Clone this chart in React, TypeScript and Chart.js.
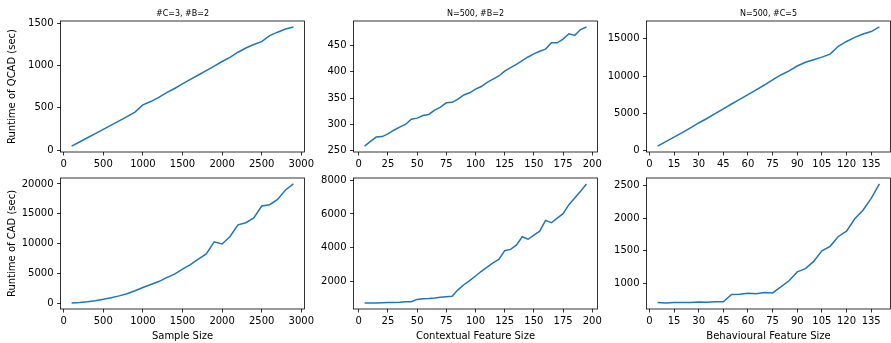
import React, { useEffect, useRef } from "react";
import { Chart, registerables } from "chart.js";

Chart.register(...registerables);

const FONT = "'DejaVu Sans', sans-serif";
const LINE_COLOR = "#1f77b4";

// ---- data ----
const sampleSizes = [100, 200, 300, 400, 500, 600, 700, 800, 900, 1000, 1100, 1200, 1300, 1400, 1500, 1600, 1700, 1800, 1900, 2000, 2100, 2200, 2300, 2400, 2500, 2600, 2700, 2800, 2900];
const qcadBySample = [47, 95, 145, 195, 245, 295, 345, 395, 450, 535, 575, 625, 680, 730, 785, 838, 890, 943, 995, 1050, 1100, 1160, 1210, 1252, 1285, 1358, 1398, 1435, 1460];
const cadBySample = [50, 150, 280, 450, 680, 950, 1250, 1600, 2100, 2650, 3150, 3650, 4300, 4880, 5750, 6480, 7400, 8280, 10300, 9950, 11200, 13150, 13500, 14300, 16300, 16520, 17400, 19000, 20000];

const contextualSizes = [5, 10, 15, 20, 25, 30, 35, 40, 45, 50, 55, 60, 65, 70, 75, 80, 85, 90, 95, 100, 105, 110, 115, 120, 125, 130, 135, 140, 145, 150, 155, 160, 165, 170, 175, 180, 185, 190, 195];
const qcadByContextual = [259, 268, 276, 277, 282, 289, 295, 300, 310, 312, 317, 319, 327, 333, 341, 342, 348, 356, 360, 367, 372, 380, 386, 392, 401, 408, 414, 421, 428, 434, 439, 443, 455, 455, 462, 472, 469, 480, 485];
const cadByContextual = [720, 715, 720, 730, 740, 750, 760, 790, 790, 930, 970, 985, 1010, 1060, 1090, 1120, 1500, 1800, 2050, 2320, 2600, 2850, 3100, 3300, 3820, 3900, 4150, 4650, 4500, 4750, 4980, 5620, 5480, 5750, 6020, 6550, 6950, 7350, 7780];

const behaviouralSizes = [5, 10, 15, 20, 25, 30, 35, 40, 45, 50, 55, 60, 65, 70, 75, 80, 85, 90, 95, 100, 105, 110, 115, 120, 125, 130, 135, 140];
const qcadByBehavioural = [600, 1200, 1800, 2400, 3050, 3700, 4300, 4950, 5600, 6250, 6880, 7520, 8150, 8800, 9500, 10150, 10700, 11350, 11850, 12200, 12550, 12950, 14000, 14650, 15200, 15650, 15980, 16600];
const cadByBehavioural = [712, 705, 715, 712, 713, 722, 716, 725, 725, 835, 838, 855, 848, 865, 860, 950, 1045, 1180, 1230, 1340, 1500, 1570, 1720, 1800, 1990, 2120, 2300, 2520];

// ---- tick labels ----
const sampleTicks = [0, 500, 1000, 1500, 2000, 2500, 3000];
const contextualTicks = [0, 25, 50, 75, 100, 125, 150, 175, 200];
const behaviouralTicks = [0, 15, 30, 45, 60, 75, 90, 105, 120, 135];
const qcadSampleYTicks = [0, 500, 1000, 1500];
const qcadContextualYTicks = [250, 300, 350, 400, 450];
const qcadBehaviouralYTicks = [0, 5000, 10000, 15000];
const cadSampleYTicks = [0, 5000, 10000, 15000, 20000];
const cadContextualYTicks = [2000, 4000, 6000, 8000];
const cadBehaviouralYTicks = [1000, 1500, 2000, 2500];

const titles = ["#C=3, #B=2", "N=500, #B=2", "N=500, #C=5"];
const yLabels = ["Runtime of QCAD (sec)", "Runtime of CAD (sec)"];
const xLabels = ["Sample Size", "Contextual Feature Size", "Behavioural Feature Size"];

type PanelDef = {
  col: number;
  row: number;
  xs: number[];
  ys: number[];
  xTicks: number[];
  yTicks: number[];
  title?: string;
  yLabel?: string;
  xLabel?: string;
};

const panels: PanelDef[] = [
  { col: 0, row: 0, xs: sampleSizes, ys: qcadBySample, xTicks: sampleTicks, yTicks: qcadSampleYTicks, title: titles[0], yLabel: yLabels[0] },
  { col: 1, row: 0, xs: contextualSizes, ys: qcadByContextual, xTicks: contextualTicks, yTicks: qcadContextualYTicks, title: titles[1] },
  { col: 2, row: 0, xs: behaviouralSizes, ys: qcadByBehavioural, xTicks: behaviouralTicks, yTicks: qcadBehaviouralYTicks, title: titles[2] },
  { col: 0, row: 1, xs: sampleSizes, ys: cadBySample, xTicks: sampleTicks, yTicks: cadSampleYTicks, yLabel: yLabels[1], xLabel: xLabels[0] },
  { col: 1, row: 1, xs: contextualSizes, ys: cadByContextual, xTicks: contextualTicks, yTicks: cadContextualYTicks, xLabel: xLabels[1] },
  { col: 2, row: 1, xs: behaviouralSizes, ys: cadByBehavioural, xTicks: behaviouralTicks, yTicks: cadBehaviouralYTicks, xLabel: xLabels[2] },
];

const CANVAS_LEFTS = [0, 293, 586];
const CANVAS_TOPS = [0, 157];
const CANVAS_W = 325;
const CANVAS_H = 187;
const Y_AXIS_W = 60.5;
const X_AXIS_H = 35;
const TOP_SPACE = 21;
const RIGHT_PAD = 20.5;

const boxPlugin = {
  id: "box",
  afterDraw(chart: any) {
    const { ctx, chartArea } = chart;
    ctx.save();
    ctx.strokeStyle = "#000";
    ctx.lineWidth = 0.8;
    ctx.strokeRect(chartArea.left, chartArea.top, chartArea.right - chartArea.left, chartArea.bottom - chartArea.top);
    ctx.restore();
  },
};

function Panel({ p }: { p: PanelDef }) {
  const ref = useRef<HTMLCanvasElement | null>(null);
  useEffect(() => {
    const xmin = Math.min(...p.xs);
    const xmax = Math.max(...p.xs);
    const ymin = Math.min(...p.ys);
    const ymax = Math.max(...p.ys);
    const mx = (xmax - xmin) * 0.05;
    const my = (ymax - ymin) * 0.05;
    const tickFont = { family: FONT, size: 10 };
    const chart = new Chart(ref.current as HTMLCanvasElement, {
      type: "line",
      data: {
        datasets: [
          {
            data: p.xs.map((x, i) => ({ x, y: p.ys[i] })),
            borderColor: LINE_COLOR,
            borderWidth: 1.5,
            pointRadius: 0,
            tension: 0,
            fill: false,
          },
        ],
      },
      options: {
        animation: false,
        responsive: false,
        devicePixelRatio: 1,
        layout: { padding: { left: 0, top: p.title ? 0 : TOP_SPACE, right: RIGHT_PAD, bottom: 0 } },
        plugins: {
          legend: { display: false },
          tooltip: { enabled: false },
          title: p.title
            ? {
                display: true,
                text: p.title,
                fullSize: false,
                color: "#000",
                font: { family: FONT, size: 8, weight: "normal" },
                padding: { top: 9.2, bottom: 2.2 },
              }
            : { display: false },
        },
        scales: {
          x: {
            type: "linear",
            min: xmin - mx,
            max: xmax + mx,
            afterBuildTicks: (s: any) => {
              s.ticks = p.xTicks.map((v) => ({ value: v }));
            },
            afterFit: (s: any) => {
              s.height = X_AXIS_H;
            },
            ticks: {
              autoSkip: false,
              maxRotation: 0,
              minRotation: 0,
              padding: 2.5,
              color: "#000",
              font: tickFont,
              callback: (v: any) => String(v),
            },
            grid: { drawOnChartArea: false, drawTicks: true, tickLength: 3.5, color: "#000", lineWidth: 0.8 },
            border: { display: false },
            title: p.xLabel
              ? { display: true, text: p.xLabel, color: "#000", font: tickFont, padding: { top: 0, bottom: 2 } }
              : { display: false },
          },
          y: {
            type: "linear",
            min: ymin - my,
            max: ymax + my,
            afterBuildTicks: (s: any) => {
              s.ticks = p.yTicks.map((v) => ({ value: v }));
            },
            afterFit: (s: any) => {
              s.width = Y_AXIS_W;
            },
            ticks: {
              autoSkip: false,
              padding: 3.5,
              color: "#000",
              font: tickFont,
              callback: (v: any) => String(v),
            },
            grid: { drawOnChartArea: false, drawTicks: true, tickLength: 3.5, color: "#000", lineWidth: 0.8 },
            border: { display: false },
            title: p.yLabel
              ? { display: true, text: p.yLabel, color: "#000", font: tickFont, padding: { top: 6, bottom: 0 } }
              : { display: false },
          },
        },
      } as any,
      plugins: [boxPlugin],
    });
    return () => chart.destroy();
  }, [p]);
  return (
    <canvas
      ref={ref}
      width={CANVAS_W}
      height={CANVAS_H}
      style={{ position: "absolute", left: CANVAS_LEFTS[p.col], top: CANVAS_TOPS[p.row], width: CANVAS_W, height: CANVAS_H }}
    />
  );
}

export default function App() {
  return (
    <div
      style={{
        position: "absolute",
        left: 0,
        top: 0,
        width: 891,
        height: 343,
        overflow: "hidden",
        background: "#fff",
      }}
    >
      {panels.map((p, i) => (
        <Panel key={i} p={p} />
      ))}
    </div>
  );
}
